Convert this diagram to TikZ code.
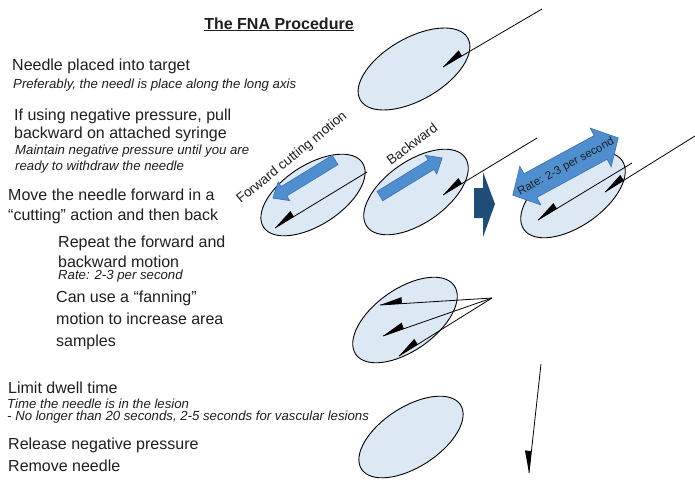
\documentclass[tikz,border=0pt]{standalone}
\usepackage{fontspec}
\setmainfont{Liberation Sans}
\usetikzlibrary{calc,shapes.geometric}
\definecolor{lesionfill}{RGB}{221,232,245}
\definecolor{arrowblue}{RGB}{79,143,207}
\definecolor{arrowedge}{RGB}{58,110,180}
\definecolor{darkarrow}{RGB}{30,77,120}
\definecolor{textcol}{RGB}{30,30,30}
\newcommand\drawneedle[2]{%
  \draw[needleline] (#1) -- (#2);
  \fill[black] (#2) -- ($(#2)!22pt!(#1)$) -- ($(#2)!22pt!(#1)!6.5pt!90:(#1)$) -- cycle;}
\begin{document}
\begin{tikzpicture}[x=1pt,y=-1pt,
  lesion/.style={ellipse, draw=black, line width=0.9pt, fill=lesionfill, inner sep=0pt},
  needleline/.style={draw=black, line width=0.8pt},
  txt/.style={anchor=base west, inner sep=0pt, text=textcol, font=\fontsize{16}{19}\selectfont},
  note/.style={anchor=base west, inner sep=0pt, text=textcol, font=\fontsize{13.2}{15}\selectfont\itshape},
  lbl/.style={inner sep=0pt, text=textcol, font=\fontsize{13.5}{15}\selectfont},
  blockarrow/.pic={\fill[arrowblue, draw=arrowedge, line width=0.6pt]
     (-36.5,-5.5) -- (23.5,-5.5) -- (23.5,-11) -- (36.5,0) -- (23.5,11) -- (23.5,5.5) -- (-36.5,5.5) -- cycle;},
  dblarrow/.pic={\fill[arrowblue, draw=arrowedge, line width=0.6pt]
     (-60,0) -- (-40,-22) -- (-40,-13.5) -- (40,-13.5) -- (40,-22) -- (60,0) -- (40,22) -- (40,13.5) -- (-40,13.5) -- (-40,22) -- cycle;}
]
\useasboundingbox (0,0) rectangle (695,479);

% ---------- text ----------
\node[anchor=base, inner sep=0pt, text=textcol, font=\fontsize{16}{19}\selectfont\bfseries] (title) at (279,29) {\underline{The FNA Procedure}};
\node[txt]  (t1)  at (12,70)  {Needle placed into target};
\node[note] (n1)  at (13,88)  {Preferably, the needl is place along the long axis};
\node[txt]  (t2a) at (14,120) {If using negative pressure, pull};
\node[txt]  (t2b) at (14,138) {backward on attached syringe};
\node[note] (n2a) at (15,154) {Maintain negative pressure until you are};
\node[note] (n2b) at (15,170) {ready to withdraw the needle};
\node[txt]  (t3a) at (8,200)  {Move the needle forward in a};
\node[txt]  (t3b) at (8,220)  {“cutting” action and then back};
\node[txt]  (t4a) at (58,247) {Repeat the forward and};
\node[txt]  (t4b) at (58,267) {backward motion};
\node[note] (n4)  at (58,279) {Rate: 2-3 per second};
\node[txt]  (t5a) at (56,302) {Can use a “fanning”};
\node[txt]  (t5b) at (56,324) {motion to increase area};
\node[txt]  (t5c) at (56,346) {samples};
\node[txt]  (t6)  at (8,393)  {Limit dwell time};
\node[note] (n6a) at (7,408)  {Time the needle is in the lesion};
\node[note] (n6b) at (7,420)  {- No longer than 20 seconds, 2-5 seconds for vascular lesions};
\node[txt]  (t7)  at (8,449)  {Release negative pressure};
\node[txt]  (t8)  at (8,471)  {Remove needle};

% ---------- lesions ----------
\node[lesion, minimum width=124pt, minimum height=62pt, rotate=30] (e1) at (414,69) {};
\node[lesion, minimum width=118pt, minimum height=60pt, rotate=33] (e2) at (313,195) {};
\node[lesion, minimum width=120pt, minimum height=62pt, rotate=35] (e3) at (416,192) {};
\node[lesion, minimum width=120pt, minimum height=62pt, rotate=35] (e4) at (573,195) {};
\node[lesion, minimum width=120pt, minimum height=62pt, rotate=35] (e5) at (405,320) {};
\node[lesion, minimum width=118pt, minimum height=60pt, rotate=33] (e6) at (411,437) {};

% ---------- needles ----------
\coordinate (n1f) at (542,9);   \coordinate (n1t) at (443,67);
\coordinate (n2f) at (367,172); \coordinate (n2t) at (275,228);
\coordinate (n3f) at (537,138); \coordinate (n3t) at (443,195);
\coordinate (n4f) at (695,136); \coordinate (n4t) at (605,192);
\coordinate (n5f) at (632,163); \coordinate (n5t) at (538,220);
\coordinate (fanf) at (492,298);
\coordinate (fa) at (380,305); \coordinate (fb) at (383,336); \coordinate (fc) at (399,356);
\coordinate (n6f) at (541,364); \coordinate (n6t) at (529,473);

\drawneedle{n1f}{n1t}
\drawneedle{n2f}{n2t}
\drawneedle{n3f}{n3t}
\drawneedle{n4f}{n4t}
\drawneedle{n5f}{n5t}
\drawneedle{fanf}{fa}
\drawneedle{fanf}{fb}
\drawneedle{fanf}{fc}
\drawneedle{n6f}{n6t}

% ---------- motion arrows ----------
\pic[rotate=211.5] (fwd) at (304,179) {blockarrow};
\pic[rotate=31.5] (bwd) at (411,177) {blockarrow};
\pic[rotate=28.5] (rate) at (565.5,166.5) {dblarrow};
\node[inner sep=0pt, text=textcol, font=\fontsize{11.4}{13}\selectfont, rotate=28.5] (ratelbl) at (566,167) {Rate: 2-3 per second};

\fill[darkarrow] (474,188) -- (483,188) -- (483,172) -- (495,204) -- (483,237) -- (483,218) -- (474,218) -- cycle;

% ---------- labels ----------
\node[lbl, rotate=39] (fwdlbl) at (292,158) {Forward cutting motion};
\node[lbl, rotate=37] (bwdlbl) at (412,144) {Backward};
\end{tikzpicture}
\end{document}
